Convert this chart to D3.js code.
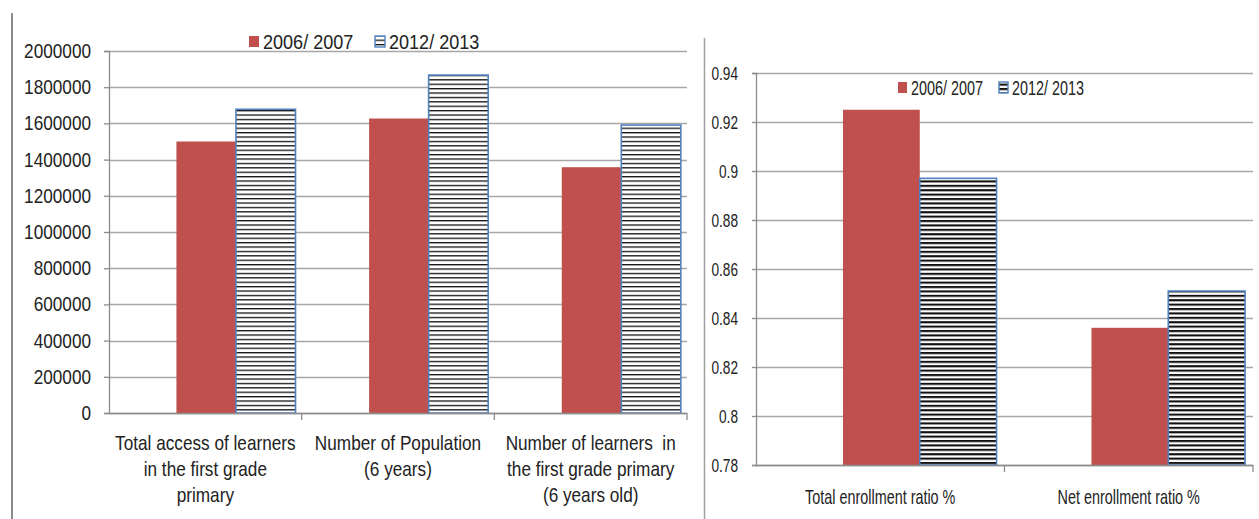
<!DOCTYPE html>
<html>
<head>
<meta charset="utf-8">
<script src="https://cdn.jsdelivr.net/npm/d3@7"></script>
<style>
  html, body { margin: 0; padding: 0; background: #fff; }
  svg { display: block; }
  text { font-family: "Liberation Sans", Arial, sans-serif; fill: #222; }
</style>
</head>
<body>
<div id="chart"></div>
<script>
// ---------- DATA ----------
const seriesNames = ["2006/ 2007", "2012/ 2013"];

const leftCategories = [
  ["Total access of learners", "in the first grade", "primary"],
  ["Number of Population", "(6 years)"],
  ["Number of learners  in", "the first grade primary", "(6 years old)"]
];
const leftValues2006 = [1500000, 1627000, 1358000];
const leftValues2012 = [1678000, 1867000, 1591000];
const leftTicks = [0, 200000, 400000, 600000, 800000, 1000000, 1200000, 1400000, 1600000, 1800000, 2000000];

const rightCategories = ["Total enrollment ratio %", "Net enrollment ratio %"];
const rightValues2006 = [0.925, 0.836];
const rightValues2012 = [0.897, 0.851];
const rightTicks = [0.78, 0.8, 0.82, 0.84, 0.86, 0.88, 0.9, 0.92, 0.94];

// ---------- SETUP ----------
const W = 1259, H = 519;
const RED = "#c0504d", BLUE = "#4f81bd", GRID = "#a6a6a6", AXIS = "#8c8c8c";

const svg = d3.select("#chart").append("svg")
  .attr("width", W).attr("height", H);

const defs = svg.append("defs");
function hatch(id, period, thick) {
  const p = defs.append("pattern").attr("id", id)
    .attr("patternUnits", "userSpaceOnUse")
    .attr("width", 10).attr("height", period);
  p.append("rect").attr("width", 10).attr("height", period).attr("fill", "#fff");
  p.append("rect").attr("y", 0).attr("width", 10).attr("height", thick).attr("fill", "#111");
}
hatch("hatchL", 4.4, 1.3);
hatch("hatchR", 4.4, 2.1);

// frame lines
svg.append("line").attr("x1", 12).attr("x2", 12).attr("y1", 13).attr("y2", H)
  .attr("stroke", AXIS).attr("stroke-width", 2);
svg.append("line").attr("x1", 704.5).attr("x2", 704.5).attr("y1", 38).attr("y2", H)
  .attr("stroke", "#a0a0a0").attr("stroke-width", 1.5);

function drawChart(cfg) {
  const sx = cfg.sx;
  const g = svg.append("g");
  const idx = cfg.categories.map((d, i) => i);
  const x0 = d3.scaleBand().domain(idx).range([cfg.left, cfg.right]).padding(0);
  const bw = x0.bandwidth();
  const x1 = d3.scaleBand().domain(seriesNames).range([0.35 * bw, 0.968 * bw]).padding(0);
  const y = d3.scaleLinear().domain(cfg.domain).range([cfg.bottom, cfg.top]);

  // gridlines
  g.selectAll(".grid").data(cfg.ticks).join("line")
    .attr("x1", cfg.left).attr("x2", cfg.right)
    .attr("y1", d => Math.round(y(d)) + 0.5).attr("y2", d => Math.round(y(d)) + 0.5)
    .attr("stroke", GRID).attr("stroke-width", 1.3);

  // bars
  const rows = idx.map(i => ({ i, vals: [cfg.v1[i], cfg.v2[i]] }));
  const grp = g.selectAll(".cat").data(rows).join("g")
    .attr("transform", d => `translate(${x0(d.i)},0)`);
  grp.append("rect")
    .attr("x", x1(seriesNames[0])).attr("width", x1.bandwidth())
    .attr("y", d => y(d.vals[0])).attr("height", d => y(cfg.domain[0]) - y(d.vals[0]))
    .attr("fill", RED);
  grp.append("rect")
    .attr("x", x1(seriesNames[1])).attr("width", x1.bandwidth())
    .attr("y", d => y(d.vals[1])).attr("height", d => y(cfg.domain[0]) - y(d.vals[1]))
    .attr("fill", `url(#${cfg.pattern})`)
    .attr("stroke", BLUE).attr("stroke-width", 1.6);

  // y axis
  const ya = g.append("g").attr("transform", `translate(${cfg.left},0)`)
    .call(d3.axisLeft(y).tickValues(cfg.ticks).tickSize(cfg.tickLen)
      .tickPadding(cfg.tickPad).tickFormat(cfg.fmt));
  ya.select(".domain").attr("stroke", AXIS).attr("stroke-width", 1.3);
  ya.selectAll(".tick line").attr("stroke", AXIS).attr("stroke-width", 1.3);
  ya.selectAll(".tick text")
    .attr("font-size", cfg.tickFont).attr("fill", "#222")
    .attr("font-family", '"Liberation Sans", Arial, sans-serif')
    .each(function() {
      const t = d3.select(this);
      const xv = +t.attr("x");
      t.attr("x", xv / sx).attr("transform", `scale(${sx},1)`);
    });

  // x axis baseline + category boundary ticks
  g.append("line").attr("x1", cfg.left).attr("x2", cfg.right)
    .attr("y1", cfg.bottom + 0.5).attr("y2", cfg.bottom + 0.5)
    .attr("stroke", AXIS).attr("stroke-width", 1.3);
  const bounds = idx.map(i => x0(i) + bw);
  g.selectAll(".xt").data(bounds).join("line")
    .attr("x1", d => d).attr("x2", d => d)
    .attr("y1", cfg.bottom).attr("y2", cfg.bottom + 7)
    .attr("stroke", AXIS).attr("stroke-width", 1.3);

  // category labels
  const lab = g.selectAll(".lab").data(cfg.categories).join("text")
    .attr("text-anchor", "middle")
    .attr("font-size", cfg.catFont)
    .attr("transform", (d, i) => `translate(${x0(i) + bw / 2},${cfg.catY}) scale(${sx},1)`);
  lab.each(function(d) {
    const lines = Array.isArray(d) ? d : [d];
    d3.select(this).selectAll("tspan").data(lines).join("tspan")
      .attr("x", 0).attr("y", (l, k) => k * cfg.lineH)
      .style("white-space", "pre")
      .text(l => l);
  });

  // legend
  const lg = g.append("g");
  cfg.legend.forEach((L, k) => {
    lg.append("rect").attr("x", L.sx).attr("y", L.sy).attr("width", L.sw).attr("height", L.sh)
      .attr("fill", k === 0 ? RED : `url(#${cfg.pattern})`)
      .attr("stroke", k === 0 ? "none" : BLUE).attr("stroke-width", 1.4);
    lg.append("text")
      .attr("transform", `translate(${L.tx},${L.ty}) scale(${sx},1)`)
      .attr("font-size", cfg.legFont).style("white-space", "pre")
      .text(seriesNames[k]);
  });
}

drawChart({
  categories: leftCategories, v1: leftValues2006, v2: leftValues2012,
  ticks: leftTicks, domain: [0, 2000000],
  left: 109, right: 687, top: 51, bottom: 413,
  pattern: "hatchL", fmt: d3.format("d"), sx: 0.86,
  tickLen: 5, tickPad: 13, tickFont: 20,
  catFont: 20, catY: 450, lineH: 26,
  legFont: 21,
  legend: [
    { sx: 249, sy: 36, sw: 10, sh: 11, tx: 263, ty: 49 },
    { sx: 375, sy: 36, sw: 10, sh: 11, tx: 389, ty: 49 }
  ]
});

drawChart({
  categories: rightCategories, v1: rightValues2006, v2: rightValues2012,
  ticks: rightTicks, domain: [0.78, 0.94],
  left: 756, right: 1253, top: 73, bottom: 465,
  pattern: "hatchR", fmt: d => String(d), sx: 0.72,
  tickLen: 4, tickPad: 14, tickFont: 19,
  catFont: 20, catY: 504, lineH: 20,
  legFont: 20,
  legend: [
    { sx: 898, sy: 82, sw: 9, sh: 11, tx: 911, ty: 95 },
    { sx: 999, sy: 82, sw: 9, sh: 11, tx: 1012, ty: 95 }
  ]
});
</script>
</body>
</html>
